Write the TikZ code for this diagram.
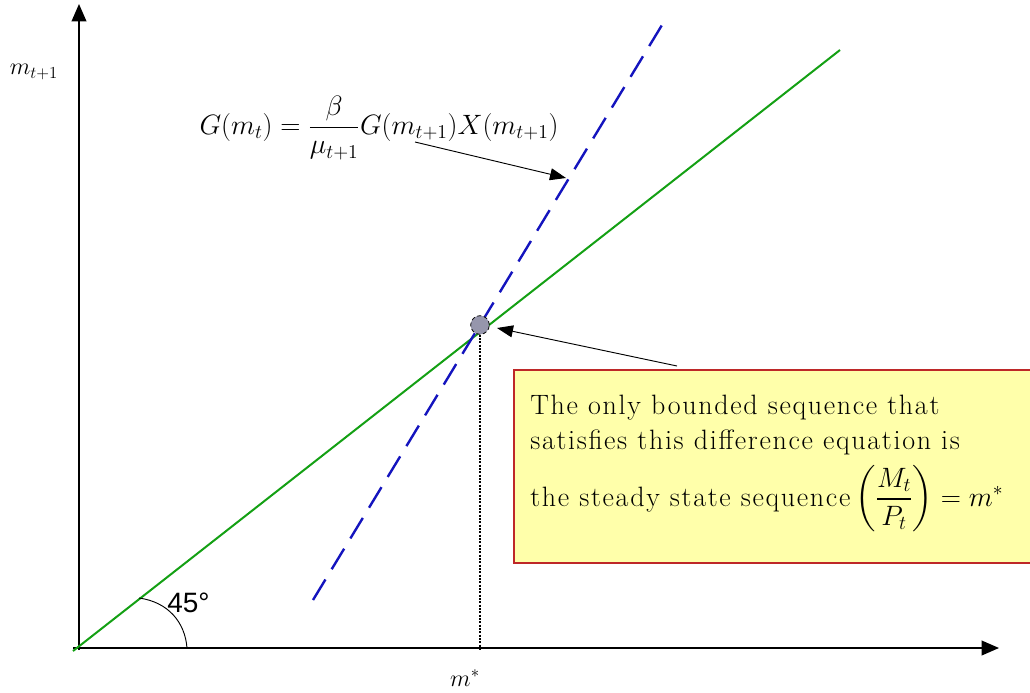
\documentclass[tikz,border=0pt]{standalone}
\usepackage{fix-cm}
\usepackage{amsmath}
\usepackage{fontspec}
\newfontfamily\sansf{Liberation Sans}
\newfontfamily\boxf[LetterSpace=6]{Latin Modern Roman}
\usetikzlibrary{arrows.meta}
\definecolor{boxfill}{RGB}{255,255,170}
\definecolor{boxborder}{RGB}{190,40,40}
\definecolor{greenline}{RGB}{20,160,20}
\definecolor{blueline}{RGB}{20,20,190}
\definecolor{dotfill}{RGB}{150,150,172}
\begin{document}
\begin{tikzpicture}[x=0.75pt,y=-0.75pt,
  axis/.style={line width=1.2pt,-{Triangle[length=13pt,width=11pt]}},
  pointer/.style={line width=0.7pt,-{Triangle[length=12pt,width=9pt]}},
  lbl/.style={inner sep=0pt},
  txtf/.style={font=\boxf\fontsize{21}{21}\selectfont}]
\useasboundingbox (0,0) rectangle (1030,692);
\clip (0,0) rectangle (1030,692);
% axes
\coordinate (O) at (79,648);
\coordinate (ytop) at (79,4);
\coordinate (xend) at (999,648);
\draw[axis] (79,650) -- (ytop);
\draw[axis] (73,648) -- (xend);
% lines
\coordinate (g1) at (73,651);
\coordinate (g2) at (840,50);
\draw[greenline, line width=1.5pt] (g1) -- (g2);
\coordinate (b1) at (313,600);
\coordinate (b2) at (662,25);
\draw[blueline, line width=1.8pt, dash pattern=on 18pt off 9pt] (b1) -- (b2);
% point
\node[circle, draw, densely dashed, fill=dotfill, minimum size=14pt, inner sep=0pt, line width=0.6pt] (P) at (480,325) {};
\coordinate (mstar) at (480,650);
\draw[line width=1.5pt, densely dotted] (P.south) -- (mstar);
% labels
\node[lbl, font=\fontsize{18}{18}\selectfont] (my) at (34,72) {$m_{t+1}$};
\node[lbl, font=\fontsize{18}{18}\selectfont] (mx) at (465,678) {$m^{*}$};
\node[lbl, font=\fontsize{21}{21}\selectfont] (eq) at (379,128) {$G(m_t)=\dfrac{\beta}{\mu_{t+1}}G(m_{t+1})X(m_{t+1})$};
% 45 deg
\coordinate (a1) at (139,598);
\coordinate (a2) at (187,648);
\draw[line width=0.7pt] (a1) .. controls (168,602) and (185,622) .. (a2);
\node[lbl, font=\sansf\fontsize{21}{21}\selectfont, anchor=west] (deg) at (167,603) {45°};
% box
\node[draw=boxborder, fill=boxfill, line width=1.5pt, anchor=north west, minimum width=400pt, minimum height=145pt, inner sep=0pt] (box) at (513,369) {};
\node[lbl, anchor=base west, txtf] (txt1) at (530,414) {The only bounded sequence that};
\node[lbl, anchor=base west, txtf] (txt2) at (530,449) {satisfies this difference equation is};
\node[lbl, anchor=base west, txtf] (txt3) at (530,506) {the steady state sequence\,$\left(\dfrac{M_t}{P_t}\right)= m^{*}$};
% pointers
\coordinate (e1) at (415,142);
\coordinate (e2) at (566,178);
\draw[pointer] (e1) -- (e2);
\coordinate (s1) at (677,366);
\draw[pointer] (s1) -- (497,328);
\end{tikzpicture}
\end{document}
